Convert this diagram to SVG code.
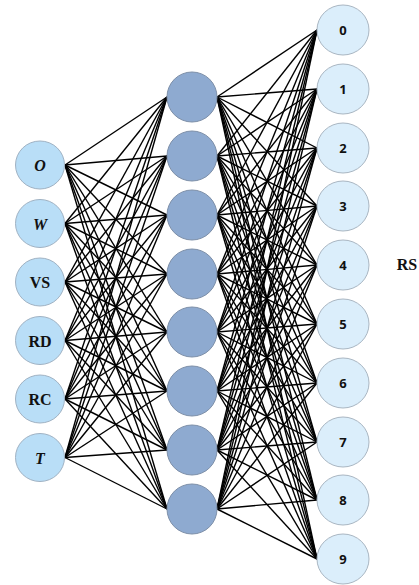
<svg xmlns="http://www.w3.org/2000/svg" width="419" height="585" viewBox="0 0 419 585">
  <style>
    .in { fill: #b9def7; stroke: #a0b2c3; stroke-width: 1; }
    .hid { fill: #8eaad0; stroke: #7d8fa8; stroke-width: 1; }
    .out { fill: #dbeefb; stroke: #a9b6c2; stroke-width: 1; }
    .lab { font-family: "Liberation Serif", "Times New Roman", serif; font-weight: bold; font-size: 16px; fill: #111; text-anchor: middle; }
    .it { font-style: italic; }
    .num { font-family: "Open Sans", "Liberation Sans", Arial, sans-serif; font-weight: bold; font-size: 13px; fill: #111; text-anchor: middle; }
    #connectors line { stroke: #000; stroke-width: 1.4; }
  </style>
  <rect width="419" height="585" fill="#fff"/>

  <g id="connectors">
    <!-- input layer to hidden layer -->
    <line x1="65" y1="165" x2="167" y2="97"/><line x1="65" y1="165" x2="167" y2="156"/><line x1="65" y1="165" x2="167" y2="215"/><line x1="65" y1="165" x2="167" y2="274"/><line x1="65" y1="165" x2="167" y2="332"/><line x1="65" y1="165" x2="167" y2="391"/><line x1="65" y1="165" x2="167" y2="450"/><line x1="65" y1="165" x2="167" y2="509"/>
    <line x1="65" y1="223.5" x2="167" y2="97"/><line x1="65" y1="223.5" x2="167" y2="156"/><line x1="65" y1="223.5" x2="167" y2="215"/><line x1="65" y1="223.5" x2="167" y2="274"/><line x1="65" y1="223.5" x2="167" y2="332"/><line x1="65" y1="223.5" x2="167" y2="391"/><line x1="65" y1="223.5" x2="167" y2="450"/><line x1="65" y1="223.5" x2="167" y2="509"/>
    <line x1="65" y1="282" x2="167" y2="97"/><line x1="65" y1="282" x2="167" y2="156"/><line x1="65" y1="282" x2="167" y2="215"/><line x1="65" y1="282" x2="167" y2="274"/><line x1="65" y1="282" x2="167" y2="332"/><line x1="65" y1="282" x2="167" y2="391"/><line x1="65" y1="282" x2="167" y2="450"/><line x1="65" y1="282" x2="167" y2="509"/>
    <line x1="65" y1="340.5" x2="167" y2="97"/><line x1="65" y1="340.5" x2="167" y2="156"/><line x1="65" y1="340.5" x2="167" y2="215"/><line x1="65" y1="340.5" x2="167" y2="274"/><line x1="65" y1="340.5" x2="167" y2="332"/><line x1="65" y1="340.5" x2="167" y2="391"/><line x1="65" y1="340.5" x2="167" y2="450"/><line x1="65" y1="340.5" x2="167" y2="509"/>
    <line x1="65" y1="399" x2="167" y2="97"/><line x1="65" y1="399" x2="167" y2="156"/><line x1="65" y1="399" x2="167" y2="215"/><line x1="65" y1="399" x2="167" y2="274"/><line x1="65" y1="399" x2="167" y2="332"/><line x1="65" y1="399" x2="167" y2="391"/><line x1="65" y1="399" x2="167" y2="450"/><line x1="65" y1="399" x2="167" y2="509"/>
    <line x1="65" y1="457.5" x2="167" y2="97"/><line x1="65" y1="457.5" x2="167" y2="156"/><line x1="65" y1="457.5" x2="167" y2="215"/><line x1="65" y1="457.5" x2="167" y2="274"/><line x1="65" y1="457.5" x2="167" y2="332"/><line x1="65" y1="457.5" x2="167" y2="391"/><line x1="65" y1="457.5" x2="167" y2="450"/><line x1="65" y1="457.5" x2="167" y2="509"/>
    <!-- hidden layer to output layer -->
    <line x1="217" y1="97" x2="317" y2="30"/><line x1="217" y1="97" x2="317" y2="89"/><line x1="217" y1="97" x2="317" y2="148"/><line x1="217" y1="97" x2="317" y2="206"/><line x1="217" y1="97" x2="317" y2="265"/><line x1="217" y1="97" x2="317" y2="324"/><line x1="217" y1="97" x2="317" y2="383"/><line x1="217" y1="97" x2="317" y2="442"/><line x1="217" y1="97" x2="317" y2="500"/><line x1="217" y1="97" x2="317" y2="559"/>
    <line x1="217" y1="156" x2="317" y2="30"/><line x1="217" y1="156" x2="317" y2="89"/><line x1="217" y1="156" x2="317" y2="148"/><line x1="217" y1="156" x2="317" y2="206"/><line x1="217" y1="156" x2="317" y2="265"/><line x1="217" y1="156" x2="317" y2="324"/><line x1="217" y1="156" x2="317" y2="383"/><line x1="217" y1="156" x2="317" y2="442"/><line x1="217" y1="156" x2="317" y2="500"/><line x1="217" y1="156" x2="317" y2="559"/>
    <line x1="217" y1="215" x2="317" y2="30"/><line x1="217" y1="215" x2="317" y2="89"/><line x1="217" y1="215" x2="317" y2="148"/><line x1="217" y1="215" x2="317" y2="206"/><line x1="217" y1="215" x2="317" y2="265"/><line x1="217" y1="215" x2="317" y2="324"/><line x1="217" y1="215" x2="317" y2="383"/><line x1="217" y1="215" x2="317" y2="442"/><line x1="217" y1="215" x2="317" y2="500"/><line x1="217" y1="215" x2="317" y2="559"/>
    <line x1="217" y1="274" x2="317" y2="30"/><line x1="217" y1="274" x2="317" y2="89"/><line x1="217" y1="274" x2="317" y2="148"/><line x1="217" y1="274" x2="317" y2="206"/><line x1="217" y1="274" x2="317" y2="265"/><line x1="217" y1="274" x2="317" y2="324"/><line x1="217" y1="274" x2="317" y2="383"/><line x1="217" y1="274" x2="317" y2="442"/><line x1="217" y1="274" x2="317" y2="500"/><line x1="217" y1="274" x2="317" y2="559"/>
    <line x1="217" y1="332" x2="317" y2="30"/><line x1="217" y1="332" x2="317" y2="89"/><line x1="217" y1="332" x2="317" y2="148"/><line x1="217" y1="332" x2="317" y2="206"/><line x1="217" y1="332" x2="317" y2="265"/><line x1="217" y1="332" x2="317" y2="324"/><line x1="217" y1="332" x2="317" y2="383"/><line x1="217" y1="332" x2="317" y2="442"/><line x1="217" y1="332" x2="317" y2="500"/><line x1="217" y1="332" x2="317" y2="559"/>
    <line x1="217" y1="391" x2="317" y2="30"/><line x1="217" y1="391" x2="317" y2="89"/><line x1="217" y1="391" x2="317" y2="148"/><line x1="217" y1="391" x2="317" y2="206"/><line x1="217" y1="391" x2="317" y2="265"/><line x1="217" y1="391" x2="317" y2="324"/><line x1="217" y1="391" x2="317" y2="383"/><line x1="217" y1="391" x2="317" y2="442"/><line x1="217" y1="391" x2="317" y2="500"/><line x1="217" y1="391" x2="317" y2="559"/>
    <line x1="217" y1="450" x2="317" y2="30"/><line x1="217" y1="450" x2="317" y2="89"/><line x1="217" y1="450" x2="317" y2="148"/><line x1="217" y1="450" x2="317" y2="206"/><line x1="217" y1="450" x2="317" y2="265"/><line x1="217" y1="450" x2="317" y2="324"/><line x1="217" y1="450" x2="317" y2="383"/><line x1="217" y1="450" x2="317" y2="442"/><line x1="217" y1="450" x2="317" y2="500"/><line x1="217" y1="450" x2="317" y2="559"/>
    <line x1="217" y1="509" x2="317" y2="30"/><line x1="217" y1="509" x2="317" y2="89"/><line x1="217" y1="509" x2="317" y2="148"/><line x1="217" y1="509" x2="317" y2="206"/><line x1="217" y1="509" x2="317" y2="265"/><line x1="217" y1="509" x2="317" y2="324"/><line x1="217" y1="509" x2="317" y2="383"/><line x1="217" y1="509" x2="317" y2="442"/><line x1="217" y1="509" x2="317" y2="500"/><line x1="217" y1="509" x2="317" y2="559"/>
  </g>

  <!-- input layer -->
  <g id="in-O"><ellipse class="in" cx="40" cy="165" rx="24.5" ry="24"/><text class="lab it" x="40" y="171">O</text></g>
  <g id="in-W"><ellipse class="in" cx="40" cy="223.5" rx="24.5" ry="24"/><text class="lab it" x="40" y="229.5">W</text></g>
  <g id="in-VS"><ellipse class="in" cx="40" cy="282" rx="24.5" ry="24"/><text class="lab" x="40" y="288">VS</text></g>
  <g id="in-RD"><ellipse class="in" cx="40" cy="340.5" rx="24.5" ry="24"/><text class="lab" x="40" y="346.5">RD</text></g>
  <g id="in-RC"><ellipse class="in" cx="40" cy="399" rx="24.5" ry="24"/><text class="lab" x="40" y="405">RC</text></g>
  <g id="in-T"><ellipse class="in" cx="40" cy="457.5" rx="24.5" ry="24"/><text class="lab it" x="40" y="463.5">T</text></g>

  <!-- hidden layer -->
  <g id="hid-1"><circle class="hid" cx="192" cy="97" r="25"/></g>
  <g id="hid-2"><circle class="hid" cx="192" cy="156" r="25"/></g>
  <g id="hid-3"><circle class="hid" cx="192" cy="215" r="25"/></g>
  <g id="hid-4"><circle class="hid" cx="192" cy="274" r="25"/></g>
  <g id="hid-5"><circle class="hid" cx="192" cy="332" r="25"/></g>
  <g id="hid-6"><circle class="hid" cx="192" cy="391" r="25"/></g>
  <g id="hid-7"><circle class="hid" cx="192" cy="450" r="25"/></g>
  <g id="hid-8"><circle class="hid" cx="192" cy="509" r="25"/></g>

  <!-- output layer -->
  <g id="out-0"><ellipse class="out" cx="343" cy="30" rx="26" ry="25"/><text class="num" x="343" y="35">0</text></g>
  <g id="out-1"><ellipse class="out" cx="343" cy="89" rx="26" ry="25"/><text class="num" x="343" y="94">1</text></g>
  <g id="out-2"><ellipse class="out" cx="343" cy="148" rx="26" ry="25"/><text class="num" x="343" y="153">2</text></g>
  <g id="out-3"><ellipse class="out" cx="343" cy="206" rx="26" ry="25"/><text class="num" x="343" y="211">3</text></g>
  <g id="out-4"><ellipse class="out" cx="343" cy="265" rx="26" ry="25"/><text class="num" x="343" y="270">4</text></g>
  <g id="out-5"><ellipse class="out" cx="343" cy="324" rx="26" ry="25"/><text class="num" x="343" y="329">5</text></g>
  <g id="out-6"><ellipse class="out" cx="343" cy="383" rx="26" ry="25"/><text class="num" x="343" y="388">6</text></g>
  <g id="out-7"><ellipse class="out" cx="343" cy="442" rx="26" ry="25"/><text class="num" x="343" y="447">7</text></g>
  <g id="out-8"><ellipse class="out" cx="343" cy="500" rx="26" ry="25"/><text class="num" x="343" y="505">8</text></g>
  <g id="out-9"><ellipse class="out" cx="343" cy="559" rx="26" ry="25"/><text class="num" x="343" y="564">9</text></g>

  <text class="lab" x="407" y="270">RS</text>
</svg>
